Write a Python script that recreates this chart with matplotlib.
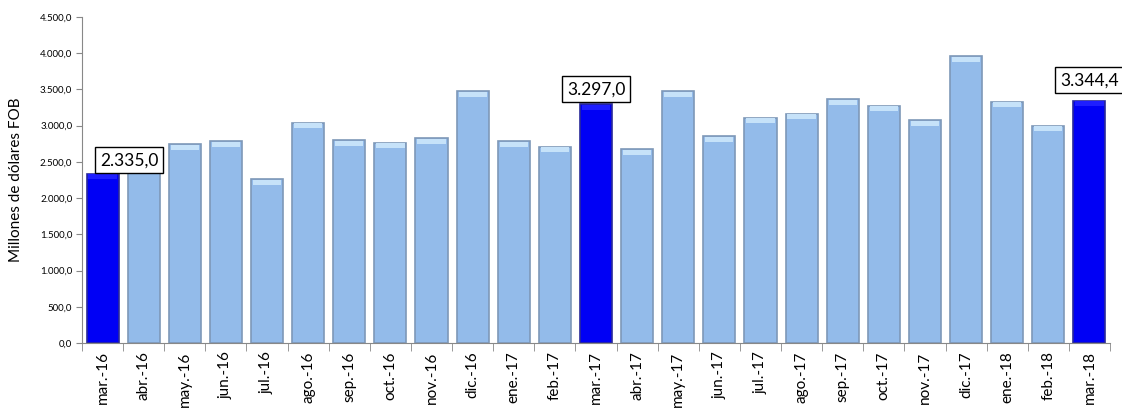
import matplotlib
matplotlib.use("Agg")
import matplotlib.pyplot as plt

plt.rcParams['font.family'] = ['Lato', 'DejaVu Sans']

meses = ["mar.-16", "abr.-16", "may.-16", "jun.-16", "jul.-16", "ago.-16", "sep.-16",
         "oct.-16", "nov.-16", "dic.-16", "ene.-17", "feb.-17", "mar.-17", "abr.-17",
         "may.-17", "jun.-17", "jul.-17", "ago.-17", "sep.-17", "oct.-17", "nov.-17",
         "dic.-17", "ene.-18", "feb.-18", "mar.-18"]
valores = [2335.0, 2410.0, 2747.0, 2784.0, 2259.0, 3041.0, 2802.0,
           2765.0, 2825.0, 3478.0, 2784.0, 2710.0, 3297.0, 2673.0,
           3478.0, 2857.0, 3110.0, 3165.0, 3368.0, 3276.0, 3078.0,
           3962.0, 3331.0, 3000.0, 3344.4]
destacados = ["mar.-16", "mar.-17", "mar.-18"]
etiquetas = {"mar.-16": "2.335,0", "mar.-17": "3.297,0", "mar.-18": "3.344,4"}


def fmt_es(v, pos=None):
    s = f"{v:,.1f}"
    return s.replace(",", "X").replace(".", ",").replace("X", ".")


fig = plt.figure(figsize=(11.22, 4.11), dpi=100)
ax = fig.add_axes([0.0731, 0.1655, 0.9162, 0.7931])

x = list(range(len(meses)))
colores = ["#0000F5" if m in destacados else "#93BBEA" for m in meses]
bordes = ["#2A2A9A" if m in destacados else "#7E98B8" for m in meses]
ancho = 0.78
ax.bar(x, valores, width=ancho, color=colores, edgecolor=bordes, linewidth=1.2, zorder=2)

# brillo superior de las barras
brillo = ["#1E1EFF" if m in destacados else "#C6E2F9" for m in meses]
tapa = 70
ax.bar(x, [tapa] * len(x), bottom=[v - tapa - 8 for v in valores], width=ancho * 0.88,
       color=brillo, linewidth=0, zorder=3)

ax.set_xlim(-0.5, len(meses) - 0.5)
ax.set_ylim(0, 4500)
ax.set_yticks([i * 500 for i in range(10)])
ax.yaxis.set_major_formatter(plt.FuncFormatter(fmt_es))
ax.tick_params(axis='y', labelsize=7, length=4, color="#888888", pad=3)

ax.set_xticks(x)
ax.set_xticklabels(meses, rotation=90, fontsize=11)
ax.tick_params(axis='x', length=0, pad=6)
ax.set_xticks([i - 0.5 for i in range(len(meses) + 1)], minor=True)
ax.tick_params(axis='x', which='minor', length=6, color="#888888")

for lado in ["top", "right"]:
    ax.spines[lado].set_visible(False)
for lado in ["left", "bottom"]:
    ax.spines[lado].set_color("#888888")

ax.set_ylabel("Millones de dólares FOB", fontsize=11, labelpad=12)

desplaz = {"mar.-16": (19, 4), "mar.-17": (0, 5), "mar.-18": (0, 9)}
for m, txt in etiquetas.items():
    i = meses.index(m)
    ax.annotate(txt, xy=(i, valores[i]), xytext=desplaz[m], textcoords="offset points",
                ha="center", va="bottom", fontsize=12.5, zorder=5,
                bbox=dict(boxstyle="square,pad=0.3", fc="white", ec="black", lw=1))

fig.savefig("out.png", dpi=100)
